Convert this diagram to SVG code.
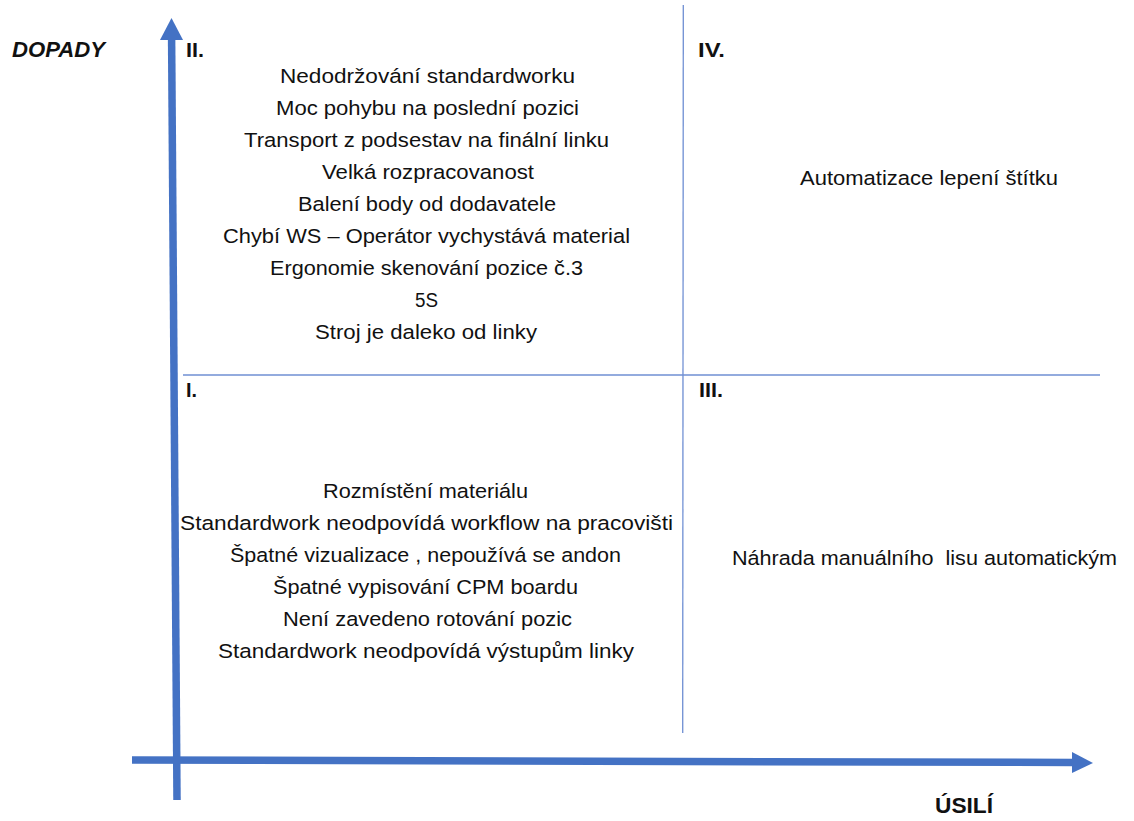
<svg xmlns="http://www.w3.org/2000/svg" width="1134" height="821" viewBox="0 0 1134 821">
<style>
.t{font-family:"Liberation Sans",Arial,sans-serif;font-size:20.5px;fill:#111;text-anchor:middle;white-space:pre}
.b{font-family:"Liberation Sans",Arial,sans-serif;font-size:20.5px;font-weight:bold;fill:#111}
.ax{font-family:"Liberation Sans",Arial,sans-serif;font-size:22px;font-weight:bold;fill:#111}
.axis{stroke:#4472C4;stroke-width:7.5;fill:none}
.thin{stroke:#6F8FD3;stroke-width:1.3;fill:none}
.head{fill:#4472C4}
</style>
<rect width="1134" height="821" fill="#fff"/>
<g id="connectors">
<line class="thin" x1="683.3" y1="5" x2="682.7" y2="733"/>
<line class="thin" x1="183" y1="375" x2="1100" y2="375"/>
<line class="axis" x1="177" y1="800" x2="171.6" y2="38"/>
<polygon class="head" points="171.5,18 183,40 160,40"/>
<line class="axis" x1="132" y1="760" x2="1074" y2="762.5"/>
<polygon class="head" points="1093,763 1072,773 1072,752"/>
</g>
<g id="axis-labels">
<text x="12" y="57" class="ax" style="font-style:italic" textLength="93" lengthAdjust="spacingAndGlyphs">DOPADY</text>
<text x="935" y="813" class="ax" textLength="58" lengthAdjust="spacingAndGlyphs">ÚSILÍ</text>
</g>
<g id="q2">
<text x="186" y="57" class="b" textLength="18" lengthAdjust="spacingAndGlyphs">II.</text>
<text class="t" x="427.5" y="83" textLength="295" lengthAdjust="spacingAndGlyphs">Nedodržování standardworku</text>
<text class="t" x="427.5" y="115" textLength="303" lengthAdjust="spacingAndGlyphs">Moc pohybu na poslední pozici</text>
<text class="t" x="426.5" y="147" textLength="365" lengthAdjust="spacingAndGlyphs">Transport z podsestav na finální linku</text>
<text class="t" x="428" y="179" textLength="212" lengthAdjust="spacingAndGlyphs">Velká rozpracovanost</text>
<text class="t" x="427" y="211" textLength="258" lengthAdjust="spacingAndGlyphs">Balení body od dodavatele</text>
<text class="t" x="426.5" y="243" textLength="407" lengthAdjust="spacingAndGlyphs">Chybí WS – Operátor vychystává material</text>
<text class="t" x="426.5" y="275" textLength="313" lengthAdjust="spacingAndGlyphs">Ergonomie skenování pozice č.3</text>
<text class="t" x="426.5" y="307" textLength="23" lengthAdjust="spacingAndGlyphs">5S</text>
<text class="t" x="426" y="339" textLength="222" lengthAdjust="spacingAndGlyphs">Stroj je daleko od linky</text>
</g>
<g id="q4">
<text x="698" y="57" class="b" textLength="27" lengthAdjust="spacingAndGlyphs">IV.</text>
<text class="t" x="929" y="185" textLength="258" lengthAdjust="spacingAndGlyphs">Automatizace lepení štítku</text>
</g>
<g id="q1">
<text x="186" y="397" class="b" textLength="11" lengthAdjust="spacingAndGlyphs">I.</text>
<text class="t" x="425.5" y="498" textLength="205" lengthAdjust="spacingAndGlyphs">Rozmístění materiálu</text>
<text class="t" x="426.5" y="530" textLength="493" lengthAdjust="spacingAndGlyphs">Standardwork neodpovídá workflow na pracovišti</text>
<text class="t" x="425.5" y="562" textLength="391" lengthAdjust="spacingAndGlyphs">Špatné vizualizace , nepoužívá se andon</text>
<text class="t" x="425.5" y="594" textLength="305" lengthAdjust="spacingAndGlyphs">Špatné vypisování CPM boardu</text>
<text class="t" x="427.5" y="626" textLength="289" lengthAdjust="spacingAndGlyphs">Není zavedeno rotování pozic</text>
<text class="t" x="426" y="658" textLength="416" lengthAdjust="spacingAndGlyphs">Standardwork neodpovídá výstupům linky</text>
</g>
<g id="q3">
<text x="699" y="397" class="b" textLength="24" lengthAdjust="spacingAndGlyphs">III.</text>
<text class="t" x="924.5" y="565" textLength="385" lengthAdjust="spacingAndGlyphs">Náhrada manuálního  lisu automatickým</text>
</g>
</svg>
